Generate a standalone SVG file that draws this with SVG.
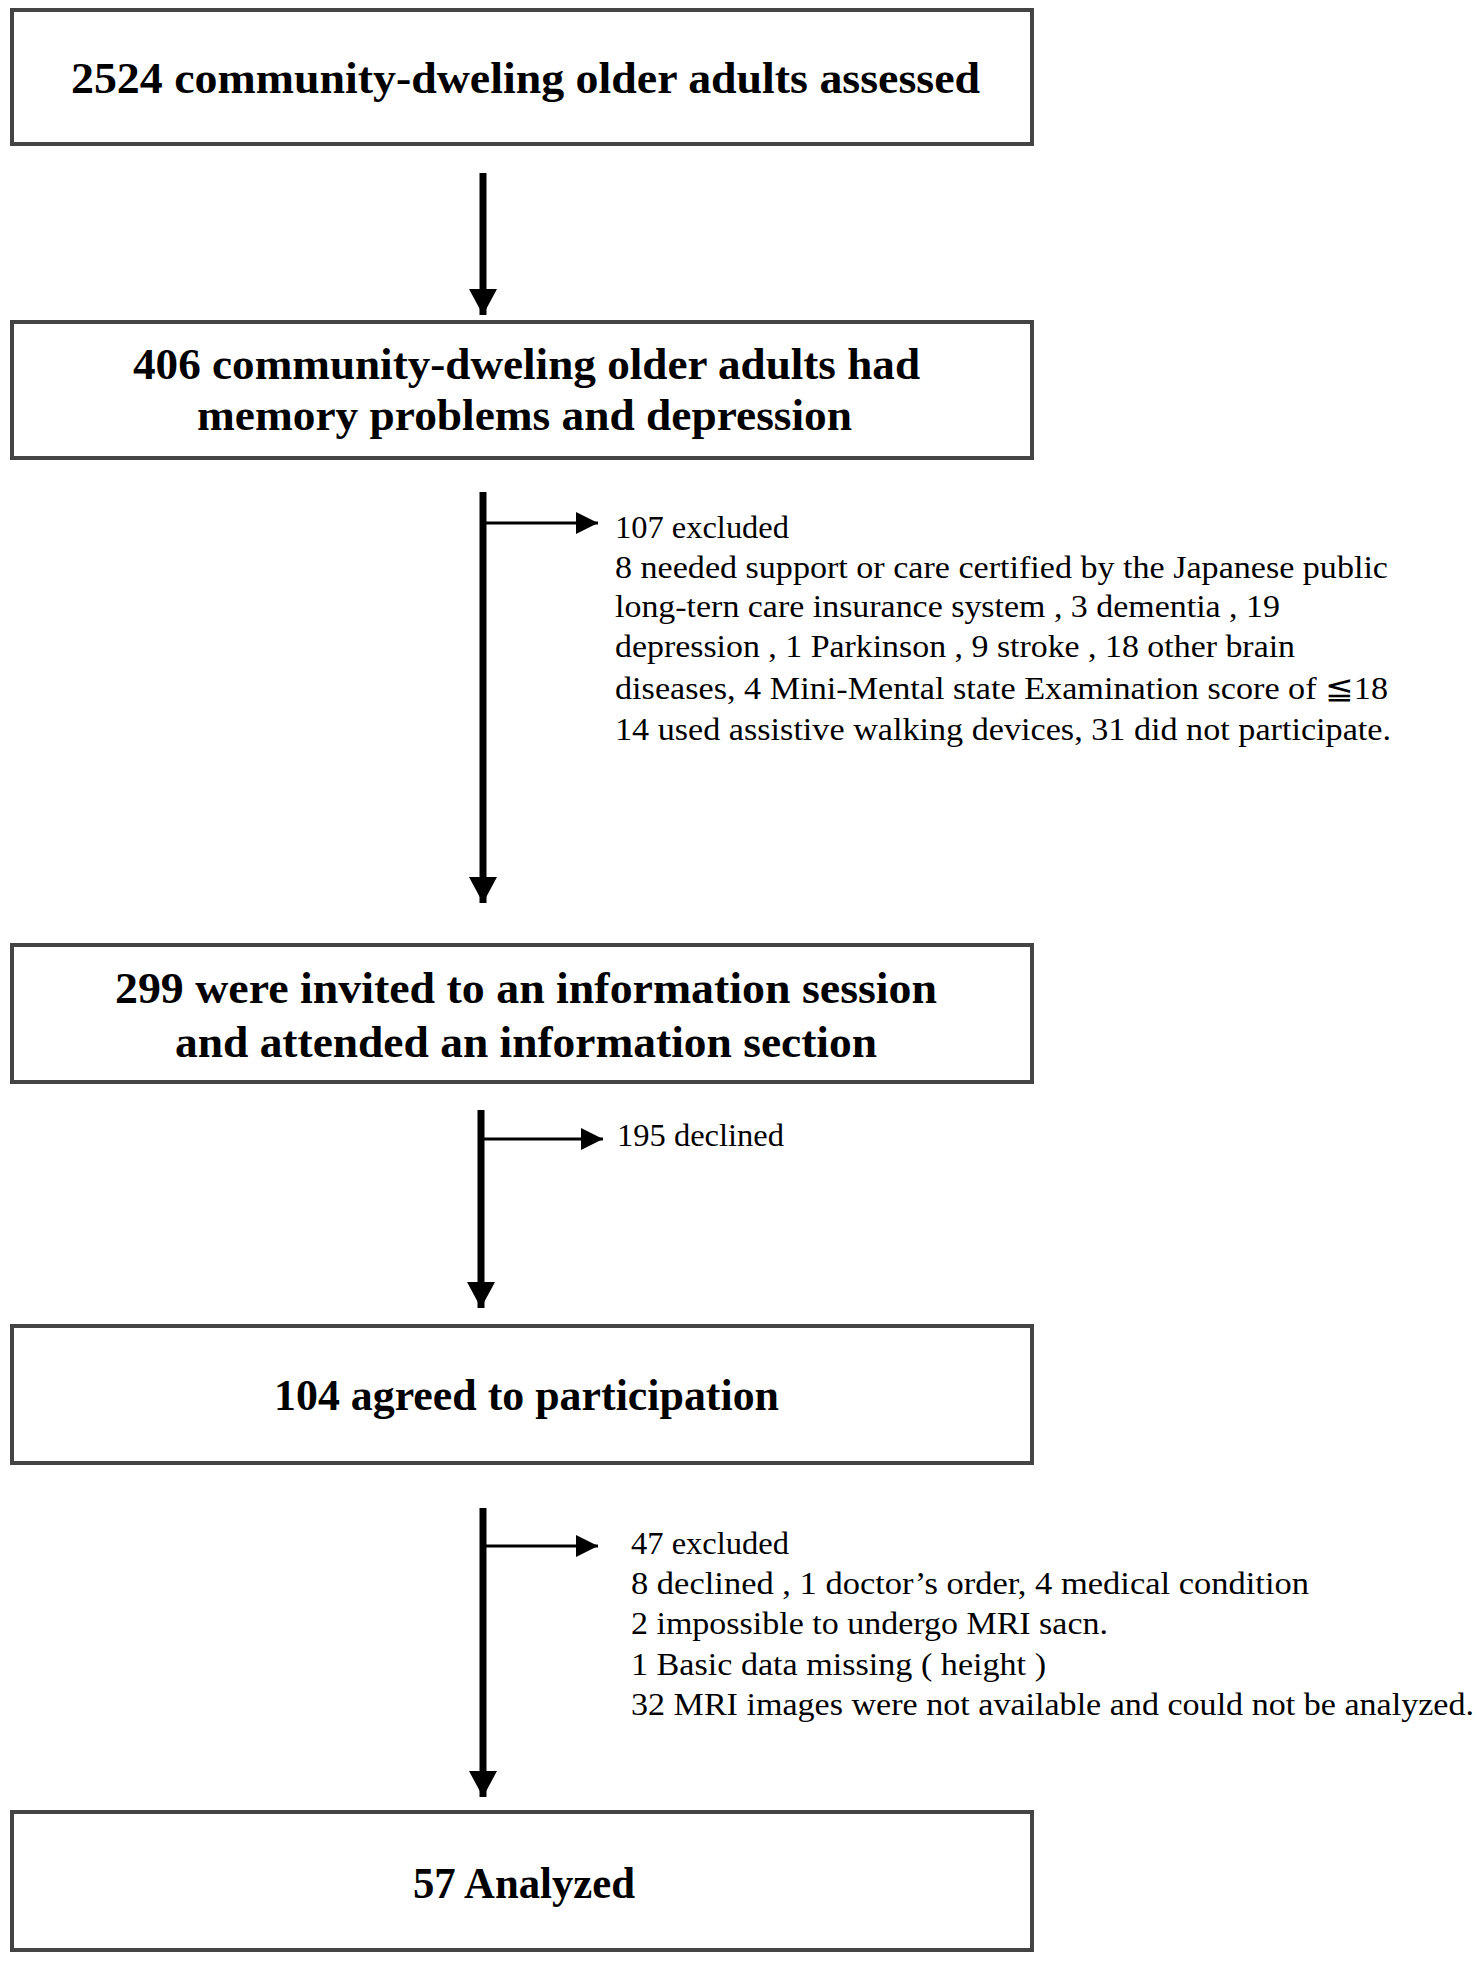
<svg xmlns="http://www.w3.org/2000/svg" width="1477" height="1961" viewBox="0 0 1477 1961">
<style>
.box{fill:#fff;stroke:#444;stroke-width:4}
.bt{font-family:'Liberation Serif','Times New Roman',Tinos,Times,serif;font-weight:bold;font-size:44px;fill:#000}
.nt{font-family:'Liberation Serif','Times New Roman',Tinos,Times,serif;font-size:31px;fill:#000}
.main{stroke:#000;stroke-width:7;fill:none}
.side{stroke:#000;stroke-width:3;fill:none}
</style>
<defs>
<marker id="mh" markerUnits="userSpaceOnUse" markerWidth="26" markerHeight="28" refX="26" refY="14" orient="auto"><path d="M0,0 L26,14 L0,28 Z" fill="#000"/></marker>
<marker id="sh" markerUnits="userSpaceOnUse" markerWidth="22" markerHeight="22" refX="22" refY="11" orient="auto"><path d="M0,0 L22,11 L0,22 Z" fill="#000"/></marker>
</defs>
<rect width="1477" height="1961" fill="#fff"/>
<g id="connectors">
<line class="main" x1="483" y1="173" x2="483" y2="315" marker-end="url(#mh)"/>
<line class="main" x1="483" y1="492" x2="483" y2="903" marker-end="url(#mh)"/>
<line class="side" x1="483" y1="523" x2="598" y2="523" marker-end="url(#sh)"/>
<line class="main" x1="481" y1="1110" x2="481" y2="1308" marker-end="url(#mh)"/>
<line class="side" x1="481" y1="1139" x2="603" y2="1139" marker-end="url(#sh)"/>
<line class="main" x1="483" y1="1508" x2="483" y2="1797" marker-end="url(#mh)"/>
<line class="side" x1="483" y1="1546" x2="598" y2="1546" marker-end="url(#sh)"/>
</g>
<g id="n1">
<rect class="box" x="12" y="10" width="1020" height="134"/>
<text class="bt" x="71" y="93" textLength="909" lengthAdjust="spacingAndGlyphs">2524 community-dweling  older adults  assessed</text>
</g>
<g id="n2">
<rect class="box" x="12" y="322" width="1020" height="136"/>
<text class="bt" x="133" y="379" textLength="787" lengthAdjust="spacingAndGlyphs">406 community-dweling  older adults had</text>
<text class="bt" x="197" y="430" textLength="655" lengthAdjust="spacingAndGlyphs">memory  problems  and depression</text>
</g>
<g id="n2x">
<text class="nt" x="615" y="538" textLength="174" lengthAdjust="spacingAndGlyphs">107 excluded</text>
<text class="nt" x="615" y="578" textLength="773" lengthAdjust="spacingAndGlyphs">8 needed support or care certified by the Japanese public</text>
<text class="nt" x="615" y="617" textLength="665" lengthAdjust="spacingAndGlyphs">long-tern care insurance system , 3 dementia , 19</text>
<text class="nt" x="615" y="657" textLength="680" lengthAdjust="spacingAndGlyphs">depression , 1 Parkinson , 9 stroke , 18 other brain</text>
<text class="nt" x="615" y="699" textLength="773" lengthAdjust="spacingAndGlyphs">diseases, 4 Mini-Mental state Examination  score of ≦18</text>
<text class="nt" x="615" y="740" textLength="776" lengthAdjust="spacingAndGlyphs">14 used assistive walking devices, 31 did not participate.</text>
</g>
<g id="n3">
<rect class="box" x="12" y="945" width="1020" height="137"/>
<text class="bt" x="115" y="1003" textLength="822" lengthAdjust="spacingAndGlyphs">299 were invited to an information  session</text>
<text class="bt" x="175" y="1057" textLength="702" lengthAdjust="spacingAndGlyphs">and attended an information  section</text>
</g>
<g id="n3x">
<text class="nt" x="617" y="1146" textLength="167" lengthAdjust="spacingAndGlyphs">195 declined</text>
</g>
<g id="n4">
<rect class="box" x="12" y="1326" width="1020" height="137"/>
<text class="bt" x="274" y="1410" textLength="505" lengthAdjust="spacingAndGlyphs">104 agreed to participation</text>
</g>
<g id="n4x">
<text class="nt" x="631" y="1554" textLength="158" lengthAdjust="spacingAndGlyphs">47 excluded</text>
<text class="nt" x="631" y="1594" textLength="678" lengthAdjust="spacingAndGlyphs">8 declined  , 1 doctor’s order, 4 medical condition</text>
<text class="nt" x="631" y="1634" textLength="477" lengthAdjust="spacingAndGlyphs">2 impossible to undergo MRI sacn.</text>
<text class="nt" x="631" y="1675" textLength="415" lengthAdjust="spacingAndGlyphs">1 Basic data missing ( height )</text>
<text class="nt" x="631" y="1715" textLength="843" lengthAdjust="spacingAndGlyphs">32 MRI images were not available and could not be analyzed.</text>
</g>
<g id="n5">
<rect class="box" x="12" y="1812" width="1020" height="138"/>
<text class="bt" x="413" y="1898" textLength="222" lengthAdjust="spacingAndGlyphs">57 Analyzed</text>
</g>
</svg>
